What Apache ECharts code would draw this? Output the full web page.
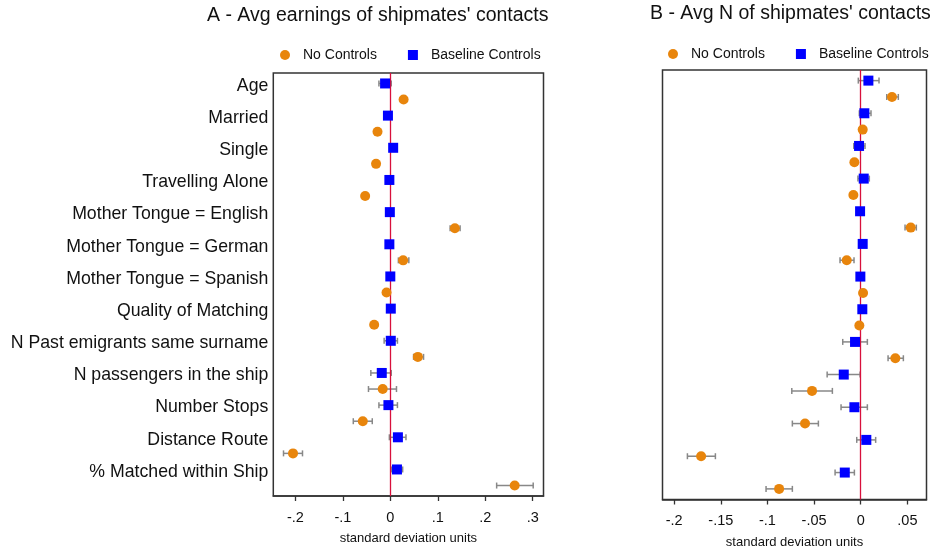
<!DOCTYPE html>
<html>
<head>
<meta charset="utf-8">
<script src="https://cdn.jsdelivr.net/npm/echarts@6/dist/echarts.min.js"></script>
<style>html,body{margin:0;padding:0;background:#fff}#c{width:930px;height:548px}</style>
</head>
<body>
<div id="c"></div>
<script>
// ---------- data ----------
var categories = ["Age","Married","Single","Travelling Alone","Mother Tongue = English","Mother Tongue = German","Mother Tongue = Spanish","Quality of Matching","N Past emigrants same surname","N passengers in the ship","Number Stops","Distance Route","% Matched within Ship"];

// Panel A - Avg earnings of shipmates' contacts
var aBaseEst = [-0.011,-0.005,0.006,-0.002,-0.001,-0.002,0.000,0.001,0.001,-0.018,-0.004,0.016,0.014];
var aBaseLo  = [-0.024,-0.010,0.001,-0.007,-0.006,-0.007,-0.005,-0.004,-0.013,-0.041,-0.024,-0.002,0.003];
var aBaseHi  = [0.002,0.000,0.011,0.003,0.004,0.003,0.005,0.006,0.015,0.002,0.015,0.033,0.026];
var aNoEst   = [0.028,-0.027,-0.030,-0.053,0.136,0.027,-0.008,-0.034,0.058,-0.016,-0.058,-0.205,0.262];
var aNoLo    = [0.023,-0.032,-0.035,-0.058,0.126,0.017,-0.013,-0.039,0.049,-0.046,-0.078,-0.225,0.224];
var aNoHi    = [0.033,-0.022,-0.025,-0.048,0.147,0.039,-0.003,-0.029,0.070,0.013,-0.038,-0.185,0.301];

// Panel B - Avg N of shipmates' contacts
var bBaseEst = [0.0082,0.0039,-0.0018,0.0032,-0.0007,0.0021,-0.0004,0.0017,-0.0061,-0.0182,-0.0068,0.0060,-0.0171];
var bBaseLo  = [-0.0026,-0.0015,-0.0075,-0.0030,-0.0037,-0.0009,-0.0034,-0.0013,-0.0193,-0.0360,-0.0211,-0.0043,-0.0275];
var bBaseHi  = [0.0196,0.0110,0.0046,0.0092,0.0023,0.0051,0.0026,0.0047,0.0071,-0.0007,0.0071,0.0160,-0.0068];
var bNoEst   = [0.0335,0.0021,-0.0068,-0.0079,0.0536,-0.0150,0.0025,-0.0015,0.0371,-0.0522,-0.0597,-0.1711,-0.0875];
var bNoLo    = [0.0279,-0.0009,-0.0098,-0.0109,0.0475,-0.0222,-0.0005,-0.0045,0.0293,-0.0739,-0.0733,-0.1858,-0.1015];
var bNoHi    = [0.0403,0.0051,-0.0038,-0.0049,0.0596,-0.0072,0.0055,0.0015,0.0457,-0.0304,-0.0454,-0.1558,-0.0733];

var aTicks = [-0.2,-0.1,0,0.1,0.2,0.3];
var bTicks = [-0.2,-0.15,-0.1,-0.05,0,0.05];

// ---------- helpers ----------
var FONT = "Liberation Sans, Arial, sans-serif";
var ORANGE = "#e8850c", BLUE = "#0000ff", GRAY = "#888888", RED = "#d8103c";
var Y_MIN = 0.35, Y_MAX = 26.65;   // row slots 1..26 (baseline = odd, no controls = even)

function pts(est, offset){ return est.map(function(v,i){ return [v, 2*i+1+offset]; }); }
function bars(lo, hi, offset){ return lo.map(function(v,i){ return [v, hi[i], 2*i+1+offset]; }); }
function fmtTick(v){
  if (Math.abs(v) < 1e-9) return "0";
  var s = String(Math.round(v*1000)/1000);
  return s.replace(/^(-?)0\./, "$1.");
}
function errItem(params, api){
  var lo = api.coord([api.value(0), api.value(2)]);
  var hi = api.coord([api.value(1), api.value(2)]);
  var h = 3;
  var st = {stroke: GRAY, lineWidth: 1.5};
  return {type:'group', children:[
    {type:'line', shape:{x1:lo[0],y1:lo[1],x2:hi[0],y2:hi[1]}, style:st},
    {type:'line', shape:{x1:lo[0],y1:lo[1]-h,x2:lo[0],y2:lo[1]+h}, style:st},
    {type:'line', shape:{x1:hi[0],y1:hi[1]-h,x2:hi[0],y2:hi[1]+h}, style:st}
  ]};
}
function xAxisCfg(grid, min, max, ticks, margin, gap){
  return {
    type:'value', gridIndex:grid, min:min, max:max,
    splitLine:{show:false},
    axisLine:{show:true, lineStyle:{color:'#333', width:1.5}},
    axisTick:{show:true, length:5, customValues:ticks, lineStyle:{color:'#333', width:1.3}},
    axisLabel:{customValues:ticks, formatter:fmtTick, fontSize:14.5, color:'#111', fontFamily:FONT, margin:margin},
    name:'standard deviation units', nameLocation:'middle', nameGap:gap,
    nameTextStyle:{fontSize:13, color:'#111', fontFamily:FONT}
  };
}
function yAxisCfg(grid){
  return {
    type:'value', gridIndex:grid, inverse:true, min:Y_MIN, max:Y_MAX, position:'left',
    splitLine:{show:false}, axisLine:{show:false}, axisTick:{show:false}, axisLabel:{show:false}
  };
}
// label-only axis (slightly shifted so text sits like the original)
var labelShift = 0.15;
var yLabelAxis = {
  type:'value', gridIndex:0, inverse:true, min:Y_MIN - labelShift, max:Y_MAX - labelShift, position:'left', offset:0,
  splitLine:{show:false}, axisLine:{show:false}, axisTick:{show:false},
  axisLabel:{show:true, customValues:categories.map(function(c,i){ return 2*i+1; }), margin:5,
    formatter:function(v){ return categories[Math.round((v-1)/2)]; },
    fontSize:17.7, color:'#111', fontFamily:FONT}
};

var option = {
  animation:false,
  backgroundColor:'#fff',
  title:[
    {text:"A - Avg earnings of shipmates' contacts", left:202, top:1,
     textStyle:{fontSize:19.5, fontWeight:'normal', color:'#111', fontFamily:FONT}},
    {text:"B - Avg N of shipmates' contacts", left:645, top:-1,
     textStyle:{fontSize:19.5, fontWeight:'normal', color:'#111', fontFamily:FONT}}
  ],
  legend:[
    {left:280, top:48, padding:0, itemWidth:10, itemHeight:10, itemGap:31,
     textStyle:{fontSize:14, color:'#111', fontFamily:FONT, padding:[0,0,0,8]},
     data:[{name:'No Controls', icon:'circle'},{name:'Baseline Controls', icon:'rect'}]},
    {left:668, top:47, padding:0, itemWidth:10, itemHeight:10, itemGap:31,
     textStyle:{fontSize:14, color:'#111', fontFamily:FONT, padding:[0,0,0,8]},
     data:[{name:'No Controls', icon:'circle'},{name:'Baseline Controls', icon:'rect'}]}
  ],
  grid:[
    {left:273.3, top:73, width:270.2, height:423, show:true, borderColor:'#333', borderWidth:1.5, backgroundColor:'#fff', outerBoundsMode:'none', containLabel:false},
    {left:662.5, top:70, width:264, height:429.5, show:true, borderColor:'#333', borderWidth:1.5, backgroundColor:'#fff', outerBoundsMode:'none', containLabel:false}
  ],
  xAxis:[ xAxisCfg(0, -0.2465, 0.3227, aTicks, 14, 36), xAxisCfg(1, -0.2125, 0.0705, bTicks, 14, 36) ],
  yAxis:[ yAxisCfg(0), yAxisCfg(1), yLabelAxis ],
  series:[
    {type:'custom', xAxisIndex:0, yAxisIndex:0, renderItem:errItem, encode:{x:[0,1], y:2}, data:bars(aNoLo, aNoHi, 1), z:2, silent:true,
     markLine:{silent:true, symbol:['none','none'], label:{show:false}, lineStyle:{color:RED, type:'solid', width:1.3}, data:[{xAxis:0}]}},
    {type:'custom', xAxisIndex:0, yAxisIndex:0, renderItem:errItem, encode:{x:[0,1], y:2}, data:bars(aBaseLo, aBaseHi, 0), z:2, silent:true},
    {type:'custom', xAxisIndex:1, yAxisIndex:1, renderItem:errItem, encode:{x:[0,1], y:2}, data:bars(bNoLo, bNoHi, 1), z:2, silent:true,
     markLine:{silent:true, symbol:['none','none'], label:{show:false}, lineStyle:{color:RED, type:'solid', width:1.3}, data:[{xAxis:0}]}},
    {type:'custom', xAxisIndex:1, yAxisIndex:1, renderItem:errItem, encode:{x:[0,1], y:2}, data:bars(bBaseLo, bBaseHi, 0), z:2, silent:true},
    {name:'No Controls', type:'scatter', xAxisIndex:0, yAxisIndex:0, symbol:'circle', symbolSize:10, itemStyle:{color:ORANGE, opacity:1}, data:pts(aNoEst,1), z:5},
    {name:'Baseline Controls', type:'scatter', xAxisIndex:0, yAxisIndex:0, symbol:'rect', symbolSize:10, itemStyle:{color:BLUE, opacity:1}, data:pts(aBaseEst,0), z:5},
    {name:'No Controls', type:'scatter', xAxisIndex:1, yAxisIndex:1, symbol:'circle', symbolSize:10, itemStyle:{color:ORANGE, opacity:1}, data:pts(bNoEst,1), z:5},
    {name:'Baseline Controls', type:'scatter', xAxisIndex:1, yAxisIndex:1, symbol:'rect', symbolSize:10, itemStyle:{color:BLUE, opacity:1}, data:pts(bBaseEst,0), z:5}
  ]
};
echarts.init(document.getElementById('c'), null, {renderer:'canvas'}).setOption(option);
</script>
</body>
</html>
